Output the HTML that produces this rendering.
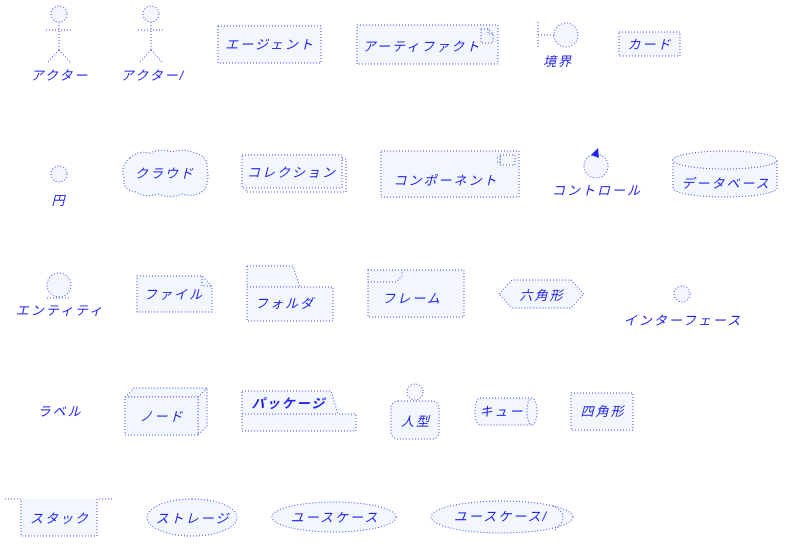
<!DOCTYPE html>
<html><head><meta charset="utf-8"><style>
html,body{margin:0;padding:0;background:#fff}
svg{display:block}
.s{fill:#f1f7fd;stroke:#4a4aff;stroke-width:1;stroke-dasharray:1 2}
.n{fill:none;stroke:#4a4aff;stroke-width:1;stroke-dasharray:1 2}
text{font-family:"Liberation Sans","Noto Sans CJK JP",sans-serif;font-size:13px;fill:#2222ee;text-anchor:middle;letter-spacing:2px;font-style:italic}
</style></head><body>
<svg width="801" height="550" viewBox="0 0 801 550" xmlns="http://www.w3.org/2000/svg">
<!-- Row 1 -->
<circle class="s" cx="59" cy="14" r="8"/>
<path class="n" d="M59 22V50M46 30H72M59 50L48 62M59 50L70 62"/>
<text x="60" y="80">アクター</text>
<circle class="s" cx="151" cy="14" r="8"/>
<path class="n" d="M151 22V50M138 30H164M151 50L140 62M151 50L162 62"/>
<text x="153" y="80">アクター/</text>
<rect class="s" x="218" y="26" width="103" height="37"/>
<text x="270" y="49">エージェント</text>
<rect class="s" x="357" y="25" width="141" height="39"/>
<path class="n" d="M481 29H488L493 34V43H481Z"/>
<path class="n" d="M488 29V34H493"/>
<text x="422" y="51">アーティファクト</text>
<path class="n" d="M538 22V47M538 35H554"/>
<circle class="s" cx="566" cy="35" r="12"/>
<text x="558" y="66">境界</text>
<rect class="s" x="619" y="32" width="61" height="24"/>
<text x="650" y="49">カード</text>
<!-- Row 2 -->
<circle class="s" cx="59" cy="174" r="8"/>
<text x="59" y="205">円</text>
<path class="s" d="M130 158Q138 150 150 153Q160 148 172 152Q184 148 195 153Q208 156 207 168Q210 182 204 190Q196 198 182 194Q170 199 158 194Q146 198 136 192Q122 190 124 178Q120 166 130 158Z"/>
<text x="165" y="178">クラウド</text>
<rect class="n" x="246" y="159" width="100" height="33"/>
<rect class="s" x="242" y="155" width="100" height="33"/>
<text x="292" y="177">コレクション</text>
<rect class="s" x="381" y="151" width="138" height="46"/>
<rect class="s" x="500" y="155" width="15" height="10"/>
<path class="n" d="M497 158H502M497 162H502"/>
<text x="446" y="185">コンポーネント</text>
<circle class="s" cx="596" cy="166" r="12"/>
<path d="M598 148L591 155L599 158Z" fill="#2222ee"/>
<text x="597" y="195">コントロール</text>
<path class="s" d="M673 160V188A52 9 0 0 0 777 188V160"/>
<ellipse class="s" cx="725" cy="160" rx="52" ry="9"/>
<text x="726" y="188">データベース</text>
<!-- Row 3 -->
<circle class="s" cx="59" cy="285" r="12"/>
<path class="n" d="M47 298H71"/>
<text x="60" y="315">エンティティ</text>
<path class="s" d="M137 276H202L212 286V312H137Z"/>
<path class="n" d="M202 276V286H212"/>
<text x="174" y="299">ファイル</text>
<path class="s" d="M247 266H293L300 287H247Z"/>
<rect class="s" x="247" y="287" width="86" height="34"/>
<text x="285" y="308">フォルダ</text>
<rect class="s" x="368" y="270" width="96" height="47"/>
<path class="n" d="M368 282H396L402 276V270"/>
<text x="412" y="303">フレーム</text>
<path class="s" d="M499 294L512 280H571L584 294L571 308H512Z"/>
<text x="542" y="300">六角形</text>
<circle class="s" cx="682" cy="294" r="8"/>
<text x="683" y="325">インターフェース</text>
<!-- Row 4 -->
<text x="60" y="416">ラベル</text>
<path class="s" d="M125 397L134 388H207V426L198 435V397Z"/>
<path class="n" d="M198 397L207 388"/>
<rect class="s" x="125" y="397" width="73" height="38"/>
<text x="162" y="421">ノード</text>
<path class="s" d="M242 391H331L338 414H356V431H242Z"/>
<path class="n" d="M242 414H338"/>
<text x="289" y="408" style="font-weight:bold">パッケージ</text>
<circle class="s" cx="415" cy="392" r="8"/>
<rect class="s" x="391" y="401" width="48" height="38" rx="7"/>
<text x="416" y="426">人型</text>
<path class="s" d="M480 398H532A5 13.5 0 0 1 532 425H480A5 13.5 0 0 1 480 398Z"/>
<path class="n" d="M532 398A5 13.5 0 0 0 532 425"/>
<text x="502" y="416">キュー</text>
<rect class="s" x="571" y="393" width="62" height="37"/>
<text x="603" y="416">四角形</text>
<!-- Row 5 -->
<rect class="s" x="21" y="499" width="76" height="37" style="stroke:none"/>
<path class="n" d="M5 499H21V536H97V499H113"/>
<text x="60" y="523">スタック</text>
<rect class="s" x="147" y="499" width="90" height="37" rx="45" ry="18.5"/>
<text x="193" y="523">ストレージ</text>
<ellipse class="s" cx="334" cy="517" rx="62" ry="15"/>
<text x="335" y="522">ユースケース</text>
<ellipse class="s" cx="502" cy="517" rx="71" ry="16"/>
<path class="n" d="M553 506Q572 515 555 530"/>
<text x="501" y="521">ユースケース/</text>
</svg>
</body></html>
